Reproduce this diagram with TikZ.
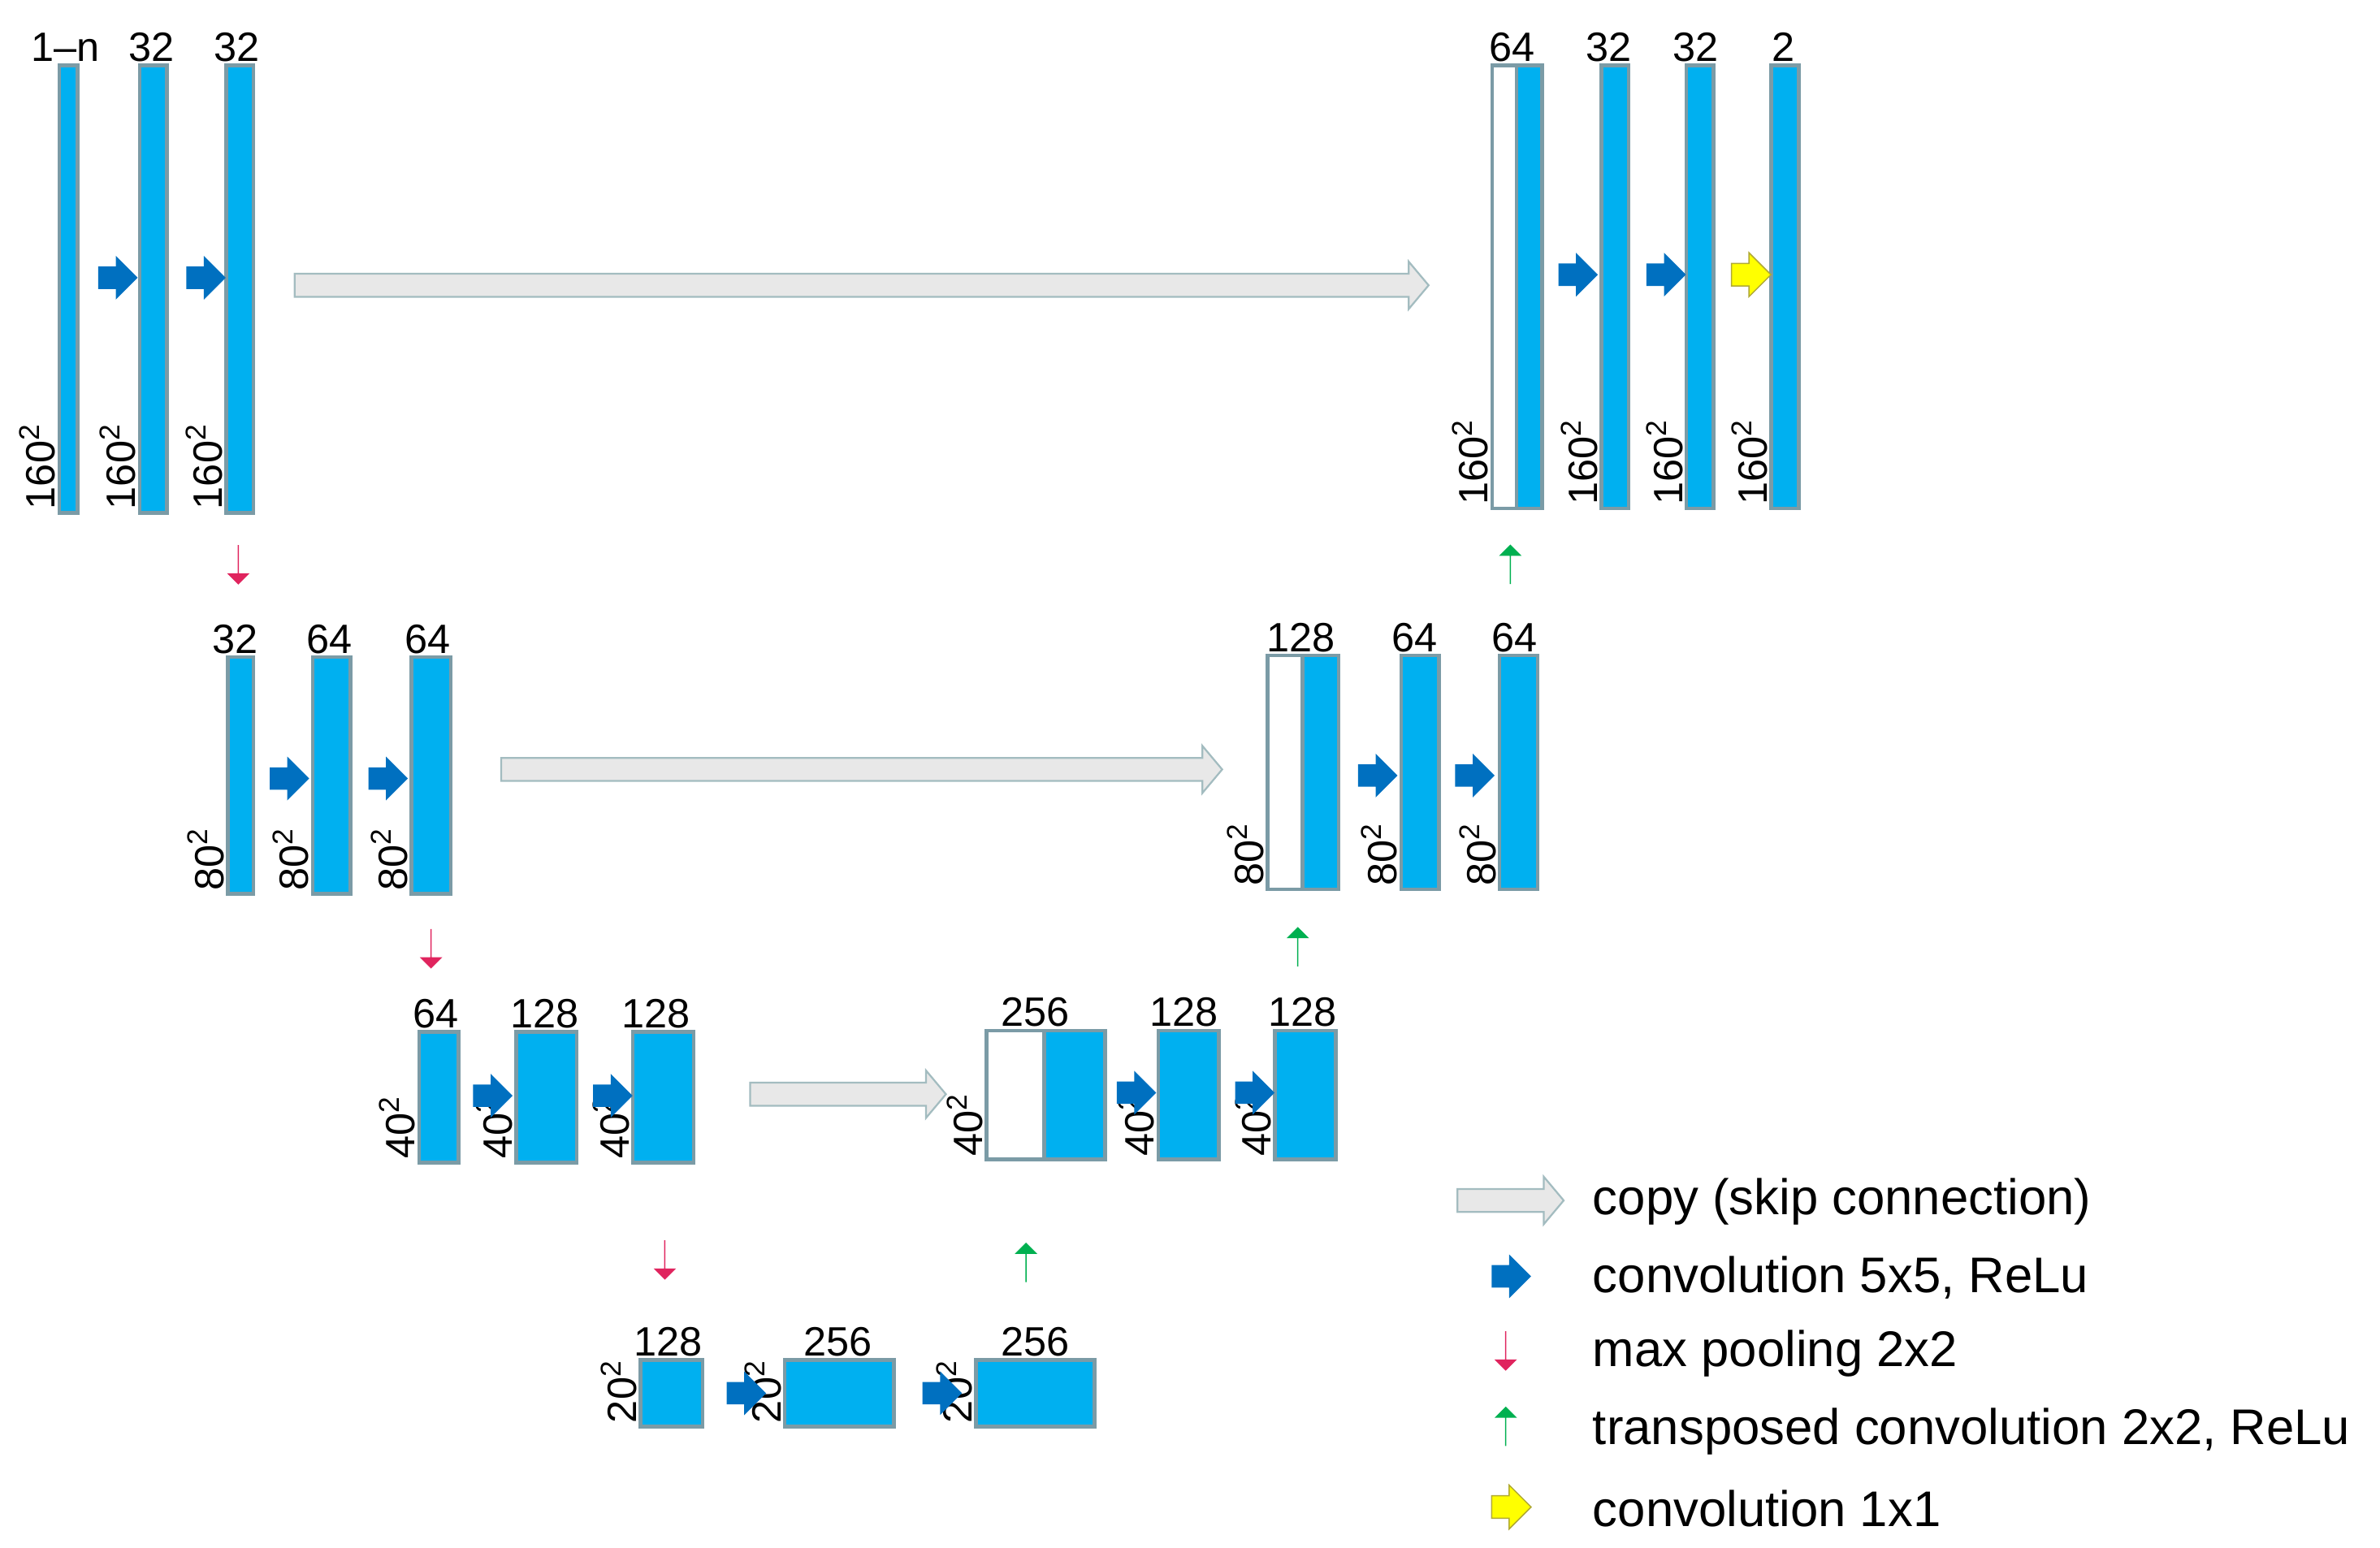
\documentclass[tikz,border=0pt]{standalone}
\usepackage{fontspec}
\setmainfont{Liberation Sans}
\usetikzlibrary{shapes.arrows}
\definecolor{fm}{HTML}{00B0F0}
\definecolor{fmb}{HTML}{7B9BA6}
\definecolor{cblue}{HTML}{0070C0}
\definecolor{cred}{HTML}{E0245E}
\definecolor{cgreen}{HTML}{00B050}
\definecolor{cyel}{HTML}{FFFF00}
\definecolor{cgray}{HTML}{E8E8E8}
\definecolor{cgrayb}{HTML}{A3BCC0}
\tikzset{
  blk/.style={draw=fmb,line width=1.2pt,inner sep=0pt,outer sep=0pt},
  lab/.style={font=\fontsize{13.5}{14}\selectfont,inner sep=1pt,anchor=south},
  dim/.style={font=\fontsize{13.5}{14}\selectfont,inner sep=1pt,rotate=90,anchor=south west},
  leg/.style={font=\fontsize{16.5}{18}\selectfont,anchor=west,inner sep=0pt},
  sarr/.style={single arrow,inner xsep=0pt,inner ysep=3.5pt,single arrow head extend=3.5pt,
     single arrow tip angle=90,minimum height=13pt,draw=none},
  conv/.style={sarr,fill=cblue},
  pool/.style={sarr,fill=cred,shape border rotate=270},
  tconv/.style={sarr,fill=cgreen,shape border rotate=90},
  one/.style={sarr,fill=cyel,draw=olive!70,line width=0.4pt},
  skip/.style={single arrow,inner xsep=0pt,inner ysep=3.5pt,single arrow head extend=4pt,
     single arrow tip angle=100,fill=cgray,draw=cgrayb,line width=0.6pt},
}
\newcommand{\blk}[6]{\node[blk,fill=#6,minimum width={(#4-#2)*0.5pt},minimum height={(#5-#3)*0.5pt}] (#1) at ({(#2+#4)/2},{(#3+#5)/2}) {};}
\newcommand{\skp}[4]{\node[skip,minimum height={(#3-#2)*0.5pt}] (#1) at ({(#2+#3)/2},#4) {};}
\begin{document}
\begin{tikzpicture}[x=0.5pt,y=-0.5pt]
\useasboundingbox (0,0) rectangle (1568,1020);
% row 1 left
\blk{a1}{39}{43}{51}{338}{fm}
\blk{a2}{92}{43}{110}{338}{fm}
\blk{a3}{149}{43}{167}{338}{fm}
\node[lab] at (43,43) {1--n};
\node[lab] at (100,43) {32};
\node[lab] at (156,43) {32};
\foreach \n in {a1,a2,a3} \node[dim] at (\n.south west) {160\textsuperscript{2}};
\node[conv] (ca1) at (74,183) {};
\node[conv] (ca2) at (132,183) {};
\node[pool] (pa) at (157,372) {};
\skp{s1}{191}{938}{188}
% row 1 right
\blk{w1}{983}{43}{999}{335}{white}
\blk{e1}{999}{43}{1016}{335}{fm}
\blk{e2}{1055}{43}{1073}{335}{fm}
\blk{e3}{1111}{43}{1129}{335}{fm}
\blk{e4}{1167}{43}{1185}{335}{fm}
\node[lab] at (996,43) {64};
\node[lab] at (1060,43) {32};
\node[lab] at (1117,43) {32};
\node[lab] at (1175,43) {2};
\foreach \n in {w1,e2,e3,e4} \node[dim] at (\n.south west) {160\textsuperscript{2}};
\node[conv] (ce1) at (1036,181) {};
\node[conv] (ce2) at (1094,181) {};
\node[one] (ye) at (1150,181) {};
\node[tconv] (ge) at (995,372) {};
% row 2 left
\blk{b1}{150}{433}{167}{589}{fm}
\blk{b2}{206}{433}{231}{589}{fm}
\blk{b3}{271}{433}{297}{589}{fm}
\node[lab] at (155,433) {32};
\node[lab] at (217,433) {64};
\node[lab] at (282,433) {64};
\foreach \n in {b1,b2,b3} \node[dim] at (\n.south west) {80\textsuperscript{2}};
\node[conv] (cb1) at (187,513) {};
\node[conv] (cb2) at (252,513) {};
\node[pool] (pb) at (284,625) {};
\skp{s2}{327}{802}{507}
% row 2 right
\blk{w2}{835}{432}{858}{586}{white}
\blk{d1}{858}{432}{882}{586}{fm}
\blk{d2}{923}{432}{948}{586}{fm}
\blk{d3}{988}{432}{1013}{586}{fm}
\node[lab] at (857,432) {128};
\node[lab] at (932,432) {64};
\node[lab] at (998,432) {64};
\foreach \n in {w2,d2,d3} \node[dim] at (\n.south west) {80\textsuperscript{2}};
\node[conv] (cd1) at (904,511) {};
\node[conv] (cd2) at (968,511) {};
\node[tconv] (gd) at (855,624) {};
% row 3 left
\blk{c1}{276}{680}{302}{766}{fm}
\blk{c2}{340}{680}{380}{766}{fm}
\blk{c3}{417}{680}{457}{766}{fm}
\node[lab] at (287,680) {64};
\node[lab] at (359,680) {128};
\node[lab] at (432,680) {128};
\foreach \n in {c1,c2,c3} \node[dim] at (\n.south west) {40\textsuperscript{2}};
\node[conv] (cc1) at (321,722) {};
\node[conv] (cc2) at (400,722) {};
\node[pool] (pc) at (438,830) {};
\skp{s3}{491}{620}{721}
% row 3 right
\blk{w3}{650}{679}{688}{764}{white}
\blk{f1}{688}{679}{728}{764}{fm}
\blk{f2}{763}{679}{803}{764}{fm}
\blk{f3}{840}{679}{880}{764}{fm}
\node[lab] at (682,679) {256};
\node[lab] at (780,679) {128};
\node[lab] at (858,679) {128};
\foreach \n in {w3,f2,f3} \node[dim] at (\n.south west) {40\textsuperscript{2}};
\node[conv] (cf1) at (745,720) {};
\node[conv] (cf2) at (823,720) {};
\node[tconv] (gf) at (676,832) {};
% row 4
\blk{g1}{422}{896}{463}{940}{fm}
\blk{g2}{517}{896}{589}{940}{fm}
\blk{g3}{643}{896}{721}{940}{fm}
\node[lab] at (440,896) {128};
\node[lab] at (552,896) {256};
\node[lab] at (682,896) {256};
\foreach \n in {g1,g2,g3} \node[dim] at (\n.south west) {20\textsuperscript{2}};
\node[conv] (cg1) at (488,918) {};
\node[conv] (cg2) at (617,918) {};
% legend
\skp{ls}{957}{1027}{791}
\node[conv] (lc) at (992,841) {};
\node[pool] (lp) at (992,890) {};
\node[tconv] (lt) at (992,940) {};
\node[one] (ly) at (992,993) {};
\node[leg] at (1049,792) {copy (skip connection)};
\node[leg] at (1049,842) {convolution 5x5, ReLu};
\node[leg] at (1049,892) {max pooling 2x2};
\node[leg] at (1049,943) {transposed convolution 2x2, ReLu};
\node[leg] at (1049,994) {convolution 1x1};
\end{tikzpicture}
\end{document}
